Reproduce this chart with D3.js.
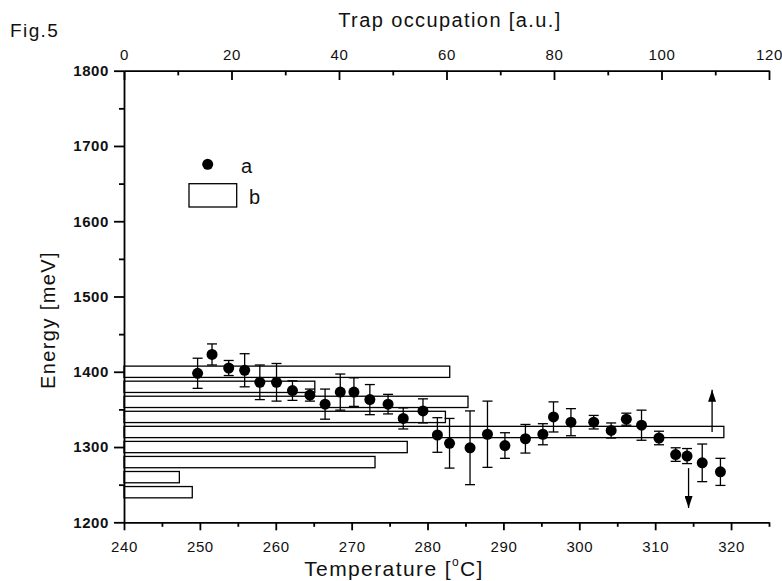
<!DOCTYPE html>
<meta charset="utf-8">
<style>
body {
  margin: 0;
  background: #fff;
  font-family: 'Liberation Sans', Arial, sans-serif;
}
.axis path, .axis line {
  stroke: #000;
  stroke-width: 1.8px;
}
.axis text {
  font-family: 'Liberation Sans', Arial, sans-serif;
  font-size: 15px;
  letter-spacing: 0.6px;
  fill: #111;
}
.axis.left text {
  font-weight: bold;
}
.minor .domain {
  display: none;
}
.bar {
  fill: #fff;
  stroke: #000;
  stroke-width: 1.3px;
}
.err {
  stroke: #000;
  stroke-width: 1.3px;
}
.label {
  font-size: 20px;
  letter-spacing: 1.4px;
  fill: #111;
}
</style>
<body>
<div id="chart"></div>
<script src="https://d3js.org/d3.v7.min.js"></script>
<script>
// points (series a): temperature [C], energy [meV], error [meV]
var temps = [249.7, 251.6, 253.8, 255.9, 257.9, 260.1, 262.2, 264.5, 266.5, 268.5, 270.3,
             272.4, 274.8, 276.8, 279.4, 281.3, 282.9, 285.6, 287.9, 290.2, 292.9, 295.2,
             296.6, 298.9, 301.9, 304.2, 306.2, 308.2, 310.5, 312.7, 314.2, 316.2, 318.6];
var energies = [1398, 1423, 1405, 1402, 1386, 1386, 1375, 1369, 1357, 1373, 1373,
                1363, 1357, 1338, 1348, 1316, 1305, 1299, 1317, 1302, 1311, 1317,
                1340, 1333, 1333, 1322, 1337, 1329, 1312, 1290, 1288, 1279, 1267];
var errors = [20, 14, 10, 22, 23, 25, 13, 8, 20, 24, 19,
              20, 13, 14, 16, 23, 33, 49, 44, 17, 19, 14,
              20, 18, 9, 10, 8, 20, 9, 9, 10, 25, 18];

// histogram (series b): energy level [meV] and trap occupation [a.u.]
var barLevels = [1400, 1380, 1360, 1340, 1320, 1300, 1280, 1260, 1240];
var barOccupation = [60.6, 35.5, 64.0, 59.8, 111.6, 52.7, 46.7, 10.3, 12.7];
var barHeight = 15; // meV

// arrows: temperature, start energy, end energy
var arrowTemps = [314.4, 317.5];
var arrowFrom = [1272, 1320];
var arrowTo = [1219, 1376];

// ticks
var tempTicks = [240, 250, 260, 270, 280, 290, 300, 310, 320];
var occTicks = [0, 20, 40, 60, 80, 100, 120];
var energyTicks = [1200, 1300, 1400, 1500, 1600, 1700, 1800];

var width = 782,
    height = 581;

var svg = d3.select("#chart").append("svg")
    .attr("width", width)
    .attr("height", height);

var x = d3.scaleLinear().domain([240, 325]).range([124, 769]);
var xTop = d3.scaleLinear().domain([0, 120]).range([124, 769]);
var y = d3.scaleLinear().domain([1200, 1800]).range([522.3, 70.7]);

// minor ticks first
svg.append("g")
    .attr("class", "axis minor")
    .attr("transform", "translate(0,522.3)")
    .call(d3.axisBottom(x).tickValues(d3.range(245, 326, 10)).tickSize(4.5).tickFormat(""));
svg.append("g")
    .attr("class", "axis minor")
    .attr("transform", "translate(0,70.7)")
    .call(d3.axisTop(xTop).tickValues(d3.range(10, 120, 20)).tickSize(-4.7).tickFormat(""));
svg.append("g")
    .attr("class", "axis minor")
    .attr("transform", "translate(124,0)")
    .call(d3.axisLeft(y).tickValues(d3.range(1250, 1800, 100)).tickSize(5).tickFormat(""));

// bars
svg.append("g").selectAll("rect")
    .data(barLevels)
  .enter().append("rect")
    .attr("class", "bar")
    .attr("x", xTop(0))
    .attr("y", function(d) { return y(d + barHeight / 2); })
    .attr("width", function(d, i) { return xTop(barOccupation[i]) - xTop(0); })
    .attr("height", function(d) { return y(d - barHeight / 2) - y(d + barHeight / 2); });

// main axes
svg.append("g")
    .attr("class", "axis bottom")
    .attr("transform", "translate(0,522.3)")
    .call(d3.axisBottom(x).tickValues(tempTicks).tickSize(8).tickSizeOuter(0).tickPadding(10.7));
svg.append("g")
    .attr("class", "axis top")
    .attr("transform", "translate(0,70.7)")
    .call(d3.axisTop(xTop).tickValues(occTicks).tickSize(-9.3).tickSizeOuter(0).tickPadding(10.7));
svg.append("g")
    .attr("class", "axis left")
    .attr("transform", "translate(124,0)")
    .call(d3.axisLeft(y).tickValues(energyTicks).tickFormat(d3.format("d"))
      .tickSize(10).tickSizeOuter(0).tickPadding(5));

// error bars
var pts = svg.append("g").selectAll("g")
    .data(temps)
  .enter().append("g");
pts.append("line")
    .attr("class", "err")
    .attr("x1", function(d) { return x(d); })
    .attr("x2", function(d) { return x(d); })
    .attr("y1", function(d, i) { return y(energies[i] + errors[i]); })
    .attr("y2", function(d, i) { return y(energies[i] - errors[i]); });
pts.append("line")
    .attr("class", "err")
    .attr("x1", function(d) { return x(d) - 5; })
    .attr("x2", function(d) { return x(d) + 5; })
    .attr("y1", function(d, i) { return y(energies[i] + errors[i]); })
    .attr("y2", function(d, i) { return y(energies[i] + errors[i]); });
pts.append("line")
    .attr("class", "err")
    .attr("x1", function(d) { return x(d) - 5; })
    .attr("x2", function(d) { return x(d) + 5; })
    .attr("y1", function(d, i) { return y(energies[i] - errors[i]); })
    .attr("y2", function(d, i) { return y(energies[i] - errors[i]); });
pts.append("circle")
    .attr("cx", function(d) { return x(d); })
    .attr("cy", function(d, i) { return y(energies[i]); })
    .attr("r", 5.5)
    .attr("fill", "#000");

// arrows
svg.append("defs").append("marker")
    .attr("id", "head")
    .attr("viewBox", "0 0 12 8")
    .attr("refX", 12).attr("refY", 4)
    .attr("markerWidth", 12).attr("markerHeight", 8)
    .attr("markerUnits", "userSpaceOnUse")
    .attr("orient", "auto")
  .append("path")
    .attr("d", "M0,0L12,4L0,8Z")
    .attr("fill", "#000");
svg.append("g").selectAll("line")
    .data(arrowTemps)
  .enter().append("line")
    .attr("class", "err")
    .attr("x1", function(d) { return x(d); })
    .attr("x2", function(d) { return x(d); })
    .attr("y1", function(d, i) { return y(arrowFrom[i]); })
    .attr("y2", function(d, i) { return y(arrowTo[i]); })
    .attr("marker-end", "url(#head)");

// legend
svg.append("circle").attr("cx", 207.7).attr("cy", 164.3).attr("r", 5.5).attr("fill", "#000");
svg.append("text").attr("class", "label").attr("x", 241).attr("y", 172.7).text("a");
svg.append("rect").attr("class", "bar").attr("x", 189).attr("y", 183.7).attr("width", 47.7).attr("height", 23.3);
svg.append("text").attr("class", "label").attr("x", 249).attr("y", 203.7).text("b");

// titles
svg.append("text").attr("class", "label")
    .attr("x", 10).attr("y", 37.3)
    .style("font-size", "19px")
    .text("Fig.5");
svg.append("text").attr("class", "label")
    .attr("x", 450).attr("y", 26.7)
    .attr("text-anchor", "middle")
    .text("Trap occupation [a.u.]");
var xt = svg.append("text").attr("class", "label")
    .attr("x", 394).attr("y", 575.7)
    .attr("text-anchor", "middle")
    .style("font-size", "21px");
xt.append("tspan").text("Temperature [");
xt.append("tspan").attr("dy", -10).style("font-size", "12px").text("o");
xt.append("tspan").attr("dy", 10).text("C]");
svg.append("text").attr("class", "label")
    .attr("transform", "translate(55,320) rotate(-90)")
    .attr("text-anchor", "middle")
    .text("Energy [meV]");
</script>
</body>
